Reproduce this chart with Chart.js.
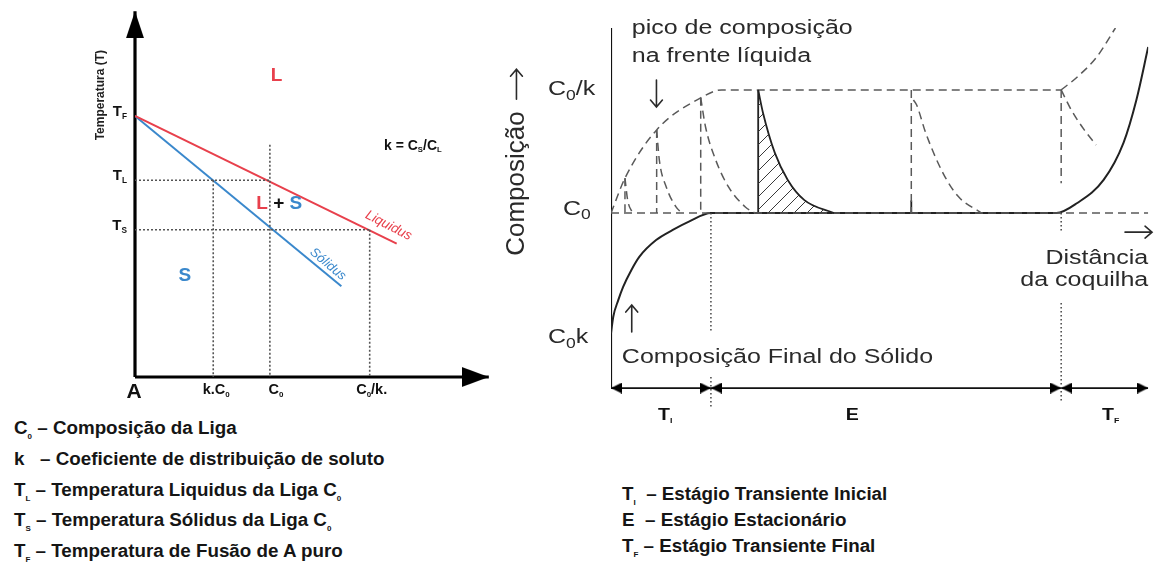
<!DOCTYPE html>
<html>
<head>
<meta charset="utf-8">
<script src="https://cdn.jsdelivr.net/npm/chart.js@4.4.1/dist/chart.umd.min.js"></script>
<style>
  html, body { margin: 0; padding: 0; background: #fff; }
  body { width: 1155px; height: 562px; position: relative; overflow: hidden; font-family: "Liberation Sans", Arial, sans-serif; }
  .box { position: absolute; }
  #phaseBox { left: 0; top: 0; width: 500px; height: 410px; }
  #profileBox { left: 500px; top: 0; width: 655px; height: 430px; }
  .legend { position: absolute; font-weight: bold; color: #151515; white-space: nowrap; }
  #legendLeft { left: 14px; top: 413px; font-size: 18.8px; line-height: 30.8px; }
  #legendRight { left: 622px; top: 481px; font-size: 18.8px; line-height: 26px; }
  .legend sub { font-size: 8px; vertical-align: -5px; line-height: 0; }
</style>
</head>
<body>
<div class="box" id="phaseBox"><canvas id="phase"></canvas></div>
<div class="box" id="profileBox"><canvas id="profile"></canvas></div>

<div class="legend" id="legendLeft">
  <div>C<sub>0</sub> – Composição da Liga</div>
  <div>k &nbsp; – Coeficiente de distribuição de soluto</div>
  <div>T<sub>L</sub> – Temperatura Liquidus da Liga C<sub>0</sub></div>
  <div>T<sub>S</sub> – Temperatura Sólidus da Liga C<sub>0</sub></div>
  <div>T<sub>F</sub> – Temperatura de Fusão de A puro</div>
</div>
<div class="legend" id="legendRight">
  <div>T<sub>I</sub> &nbsp;– Estágio Transiente Inicial</div>
  <div>E &nbsp;– Estágio Estacionário</div>
  <div>T<sub>F</sub> – Estágio Transiente Final</div>
</div>

<script>
// ---- left: phase diagram (composition x temperature) ----
const compValues = [0.58, 1.0, 1.74];          // k.C0, C0, C0/k
const compLabels = [[['k.C'], ['0', 1]], [['C'], ['0', 1]], [['C'], ['0', 1], ['/k.']]];
const tempValues = [100, 75.4, 56.4];          // TF, TL, TS
const tempLabels = ['F', 'L', 'S'];
const liquidusX = [0, 1.94];
const liquidusT = [100, 51.1];
const solidusX = [0, 1.53];
const solidusT = [100, 34.8];
const compMax = 2.623;
const tempMax = 140.15;
const c0GuideTop = 89;

// ---- right: composition profile along the casting ----
const levelValues = [15.3, 48.6, 82.8];        // C0k, C0, C0/k
const stageBounds = [0, 18.6, 83.8, 100];
const envelopeX = [0, 2.6, 8.5, 16.7, 20.6, 83.8];
const envelopeY = [48.6, 58.3, 71.7, 80.6, 82.8, 82.8];
const peakX = [2.6, 8.5, 16.7, 55.9, 83.8];
const peakTop = [58.3, 71.7, 80.6, 82.8, 82.8];
const peakBottom = [48.6, 48.6, 48.6, 48.6, 56.9];
const decay1X = [2.6, 3.1, 4.0];
const decay1Y = [58.3, 52.2, 48.6];
const decay2X = [8.5, 9.0, 10.3, 12.1, 13.2];
const decay2Y = [71.7, 63.3, 55.8, 50.3, 48.6];
const decay3X = [16.7, 17.6, 19.5, 21.9, 25.0, 26.8];
const decay3Y = [80.6, 72.5, 63.3, 55.8, 50.3, 48.6];
const steadyX = [27.4, 28.3, 30.5, 32.9, 36.0, 41.5];
const steadyY = [82.8, 76.4, 65.3, 57.8, 52.2, 48.6];
const decay5X = [56.3, 56.9, 58.6, 61.8, 64.7, 69.0];
const decay5Y = [80.0, 78.6, 70.8, 59.7, 53.1, 48.6];
const decay6X = [83.8, 85.7, 88.1, 90.3];
const decay6Y = [82.8, 77.2, 71.7, 67.5];
const riseX = [83.8, 86.8, 90.4, 93.9];
const riseY = [82.8, 86.4, 91.9, 100];
const solidX = [0, 0.42, 1.35, 2.26, 3.8, 5.3, 8.4, 11.5, 14.5, 18.6, 82.9, 86.8, 91.7, 95.4, 97.8, 100];
const solidY = [15.2, 19.8, 24.4, 28.1, 32.8, 36.5, 41.1, 43.9, 46.2, 48.6, 48.6, 51.4, 57.8, 68.1, 80.0, 94.7];
const dottedX = [18.6, 18.6, 83.8, 83.8];
const dottedFrom = [48.6, 3.1, 48.6, 23.6];
const dottedTo = [15.3, -5.3, 43.1, -3.9];
const stageLabels = [[['T'], ['I', 1]], [['E']], [['T'], ['F', 1]]];
const stageLabelX = [10.1, 44.9, 93.0];
const profileYMin = -6.1;
const profileYMax = 100;

const FAMILY = '"Liberation Sans", Arial, sans-serif';
const INK = '#2a2a2a';
const RED = '#e8404c';
const BLUE = '#3a88cc';

function pts(xs, ys) {
  return xs.map((x, i) => ({ x, y: ys[i] }));
}

function segments(list) {
  const out = [];
  list.forEach(([a, b]) => { out.push(a, b, { x: b.x, y: null }); });
  return out;
}

function line(data, style) {
  return Object.assign({
    data, showLine: true, pointRadius: 0, fill: false,
    borderColor: INK, borderWidth: 1.5, tension: 0,
  }, style);
}

function arrowHead(w, len, color) {
  const c = document.createElement('canvas');
  c.width = w;
  c.height = len * 2;
  const g = c.getContext('2d');
  g.fillStyle = color;
  g.beginPath();
  g.moveTo(w / 2, len);
  g.lineTo(w, len * 2);
  g.lineTo(0, len * 2);
  g.closePath();
  g.fill();
  return c;
}

function hatchPattern() {
  const s = 13;
  const c = document.createElement('canvas');
  c.width = s;
  c.height = s;
  const g = c.getContext('2d');
  g.strokeStyle = '#3a3a3a';
  g.lineWidth = 1;
  g.beginPath();
  g.moveTo(0, s); g.lineTo(s, 0);
  g.moveTo(-2, 2); g.lineTo(2, -2);
  g.moveTo(s - 2, s + 2); g.lineTo(s + 2, s - 2);
  g.stroke();
  return g.createPattern(c, 'repeat');
}

function drawRich(ctx, it, px, py) {
  const size = it.size || 12;
  const parts = typeof it.text === 'string' ? [[it.text]] : it.text;
  const fontFor = (p) => (it.italic ? 'italic ' : '') + (it.bold ? 'bold ' : '') +
    (p[1] ? size * (it.subScale || 0.55) : size) + 'px ' + FAMILY;
  ctx.save();
  ctx.translate(px, py);
  if (it.rot) ctx.rotate(it.rot * Math.PI / 180);
  ctx.scale(it.sx || 1, it.sy || 1);
  ctx.textBaseline = 'middle';
  ctx.textAlign = 'left';
  let total = 0;
  const widths = parts.map((p) => {
    ctx.font = fontFor(p);
    const w = ctx.measureText(p[0]).width;
    total += w;
    return w;
  });
  let cx = it.align === 'center' ? -total / 2 : it.align === 'right' ? -total : 0;
  parts.forEach((p, i) => {
    ctx.font = fontFor(p);
    ctx.fillStyle = p[2] || it.color || INK;
    ctx.fillText(p[0], cx, p[1] ? size * 0.32 : 0);
    cx += widths[i];
  });
  ctx.restore();
}

// thin open arrow like the text glyphs of the figure
function drawArrow(ctx, it, px, py) {
  const half = it.len / 2;
  const head = it.head || 7;
  const ang = { up: -90, down: 90, right: 0, left: 180 }[it.dir] * Math.PI / 180;
  ctx.save();
  ctx.translate(px, py);
  ctx.rotate(ang);
  ctx.strokeStyle = it.color || INK;
  ctx.lineWidth = 1.6;
  ctx.lineCap = 'round';
  ctx.beginPath();
  ctx.moveTo(-half, 0);
  ctx.lineTo(half, 0);
  ctx.moveTo(half - head, -head * 0.85);
  ctx.lineTo(half, 0);
  ctx.lineTo(half - head, head * 0.85);
  ctx.stroke();
  ctx.restore();
}

function textPlugin(items) {
  return {
    id: 'sketchText',
    afterDatasetsDraw(chart) {
      const { ctx, scales } = chart;
      items.forEach((it) => {
        const px = scales.x.getPixelForValue(it.x) + (it.dx || 0);
        const py = scales.y.getPixelForValue(it.y) + (it.dy || 0);
        if (it.dir) drawArrow(ctx, it, px, py);
        else drawRich(ctx, it, px, py);
      });
    },
  };
}

function baseOptions(padding, xMin, xMax, yMin, yMax) {
  return {
    responsive: true,
    maintainAspectRatio: false,
    animation: false,
    events: [],
    layout: { padding },
    plugins: { legend: { display: false }, tooltip: { enabled: false } },
    scales: {
      x: { type: 'linear', min: xMin, max: xMax, display: false },
      y: { type: 'linear', min: yMin, max: yMax, display: false },
    },
  };
}

// ---------- phase diagram ----------
const bigArrowUp = arrowHead(18, 27, '#000');
const bigArrowRight = arrowHead(20, 27, '#000');
const [kC0, C0, C0k] = compValues;
const [TF, TL, TS] = tempValues;

const guideSegs = segments([
  [{ x: 0, y: TL }, { x: C0, y: TL }],
  [{ x: 0, y: TS }, { x: C0k, y: TS }],
  [{ x: kC0, y: TL }, { x: kC0, y: 0 }],
  [{ x: C0, y: c0GuideTop }, { x: C0, y: 0 }],
  [{ x: C0k, y: TS }, { x: C0k, y: 0 }],
]);

const phaseText = [
  { x: -0.254, y: 108, text: 'Temperatura (T)', bold: true, size: 12, rot: -90, align: 'center', color: '#222' },
  { x: 0, y: 0, dx: -1, dy: 15, text: 'A', bold: true, size: 21, align: 'center', color: '#111' },
  { x: 1.05, y: 115.5, text: 'L', bold: true, size: 19, align: 'center', color: RED },
  { x: 1.07, y: 66.3, text: [['L', 0, RED], [' + ', 0, '#111'], ['S', 0, BLUE]], bold: true, size: 19, align: 'center' },
  { x: 0.37, y: 38.6, text: 'S', bold: true, size: 19, align: 'center', color: BLUE },
  { x: 2.06, y: 88.6, text: [['k = C'], ['S', 1], ['/C'], ['L', 1]], bold: true, size: 14, align: 'center', color: '#111' },
  { x: 1.88, y: 58, text: 'Liquidus', italic: true, size: 13.5, rot: 27, align: 'center', color: RED },
  { x: 1.43, y: 43.2, text: 'Sólidus', italic: true, size: 13, rot: 40, align: 'center', color: BLUE },
];
tempValues.forEach((t, i) => {
  phaseText.push({ x: 0, y: t, dx: -8, dy: -4, text: [['T'], [tempLabels[i], 1]], bold: true, size: 15, align: 'right', color: '#111' });
});
const compDx = [3, 6, 2];
compValues.forEach((c, i) => {
  phaseText.push({ x: c, y: 0, dx: compDx[i], dy: 13, text: compLabels[i], bold: true, size: 14.5, align: 'center', color: '#111' });
});

new Chart(document.getElementById('phase'), {
  type: 'scatter',
  data: {
    datasets: [
      line(guideSegs, { borderColor: '#555', borderWidth: 1.6, borderDash: [2, 2] }),
      line(pts(liquidusX, liquidusT), { borderColor: RED, borderWidth: 2 }),
      line(pts(solidusX, solidusT), { borderColor: BLUE, borderWidth: 2 }),
      line([{ x: 0, y: 0 }, { x: 0, y: tempMax }], {
        borderColor: '#000', borderWidth: 3.2, clip: false,
        pointRadius: [0, 8], pointStyle: bigArrowUp, pointRotation: 0,
      }),
      line([{ x: 0, y: 0 }, { x: compMax, y: 0 }], {
        borderColor: '#000', borderWidth: 3.2, clip: false,
        pointRadius: [0, 8], pointStyle: bigArrowRight, pointRotation: 90,
      }),
    ],
  },
  options: baseOptions({ left: 135, top: 7, right: 3, bottom: 33 }, 0, compMax, 0, tempMax),
  plugins: [textPlugin(phaseText)],
});

// ---------- composition profile ----------
const smallArrow = arrowHead(11, 11, '#000');
const [levC0k, levC0, levC0K] = levelValues;
const SX = 1.25;

const stageArrows = [];
for (let i = 0; i < stageBounds.length - 1; i++) {
  stageArrows.push(line([{ x: stageBounds[i], y: 0 }, { x: stageBounds[i + 1], y: 0 }], {
    borderColor: '#111', borderWidth: 1.8,
    pointRadius: 5, pointStyle: smallArrow, pointRotation: [-90, 90],
  }));
}

const peakSegs = segments(peakX.map((x, i) => [{ x, y: peakTop[i] }, { x, y: peakBottom[i] }]));
const dottedSegs = segments(dottedX.map((x, i) => [{ x, y: dottedFrom[i] }, { x, y: dottedTo[i] }]));
const dashed = { borderColor: '#5a5a5a', borderWidth: 1.5, borderDash: [8, 5] };
const curvy = { cubicInterpolationMode: 'monotone' };

const profileText = [
  { x: 3.86, y: 100, text: 'pico de composição', size: 20, sx: SX },
  { x: 3.86, y: 92.2, text: 'na frente líquida', size: 20, sx: SX },
  { x: 8.46, y: 81.8, dir: 'down', len: 27 },
  { x: 3.86, y: 19.3, dir: 'up', len: 27 },
  { x: 98.2, y: 43.3, dir: 'right', len: 27 },
  { x: -17.6, y: 84.4, dir: 'up', len: 30 },
  { x: 0, y: levC0K, dx: -63, text: [['C'], ['0', 1], ['/k']], size: 20, sx: SX, subScale: 0.7 },
  { x: 0, y: levC0, dx: -48, dy: -4, text: [['C'], ['0', 1]], size: 20, sx: SX, subScale: 0.7 },
  { x: 0, y: levC0k, dx: -63, dy: 5, text: [['C'], ['0', 1], ['k']], size: 20, sx: SX, subScale: 0.7 },
  { x: 2.02, y: 8.6, text: 'Composição Final do Sólido', size: 20, sx: SX },
  { x: 100, y: 36.1, text: 'Distância', size: 20, sx: SX, align: 'right' },
  { x: 100, y: 30, text: 'da coquilha', size: 20, sx: SX, align: 'right' },
  { x: -17.6, y: 56.8, text: 'Composição', size: 26, rot: -90, align: 'center' },
];
stageLabels.forEach((lab, i) => {
  profileText.push({ x: stageLabelX[i], y: 0, dy: 27, text: lab, bold: true, size: 17, sx: 1.15, align: 'center', color: '#111', subScale: 0.45 });
});

new Chart(document.getElementById('profile'), {
  type: 'scatter',
  data: {
    datasets: [
      line(pts(steadyX, steadyY), Object.assign({ borderColor: '#222', borderWidth: 1.8,
        fill: { value: levC0 }, backgroundColor: hatchPattern() }, curvy)),
      line([{ x: 0, y: levC0 }, { x: 100, y: levC0 }], dashed),
      line(pts(envelopeX, envelopeY), Object.assign({}, dashed, curvy)),
      line(peakSegs, dashed),
      line(pts(decay1X, decay1Y), Object.assign({}, dashed, curvy)),
      line(pts(decay2X, decay2Y), Object.assign({}, dashed, curvy)),
      line(pts(decay3X, decay3Y), Object.assign({}, dashed, curvy)),
      line(pts(decay5X, decay5Y), Object.assign({}, dashed, curvy)),
      line(pts(decay6X, decay6Y), Object.assign({}, dashed, curvy)),
      line(pts(riseX, riseY), Object.assign({}, dashed, curvy)),
      line(dottedSegs, { borderColor: '#444', borderWidth: 1.5, borderDash: [1.5, 2.5] }),
      line([{ x: steadyX[0], y: levC0 }, { x: steadyX[0], y: steadyY[0] }], { borderColor: '#222', borderWidth: 1.8 }),
      line([{ x: peakX[3], y: levC0 }, { x: peakX[3], y: levC0 + 3.5 }], { borderColor: '#222', borderWidth: 1.8 }),
      line(pts(solidX, solidY), Object.assign({ borderColor: '#222', borderWidth: 2 }, curvy)),
      line([{ x: 0, y: 0 }, { x: 0, y: profileYMax }], { borderColor: '#111', borderWidth: 2.2 }),
      ...stageArrows,
    ],
  },
  options: baseOptions({ left: 111, top: 28, right: 0, bottom: 20 }, 0, 100, profileYMin, profileYMax),
  plugins: [textPlugin(profileText)],
});
</script>
</body>
</html>
